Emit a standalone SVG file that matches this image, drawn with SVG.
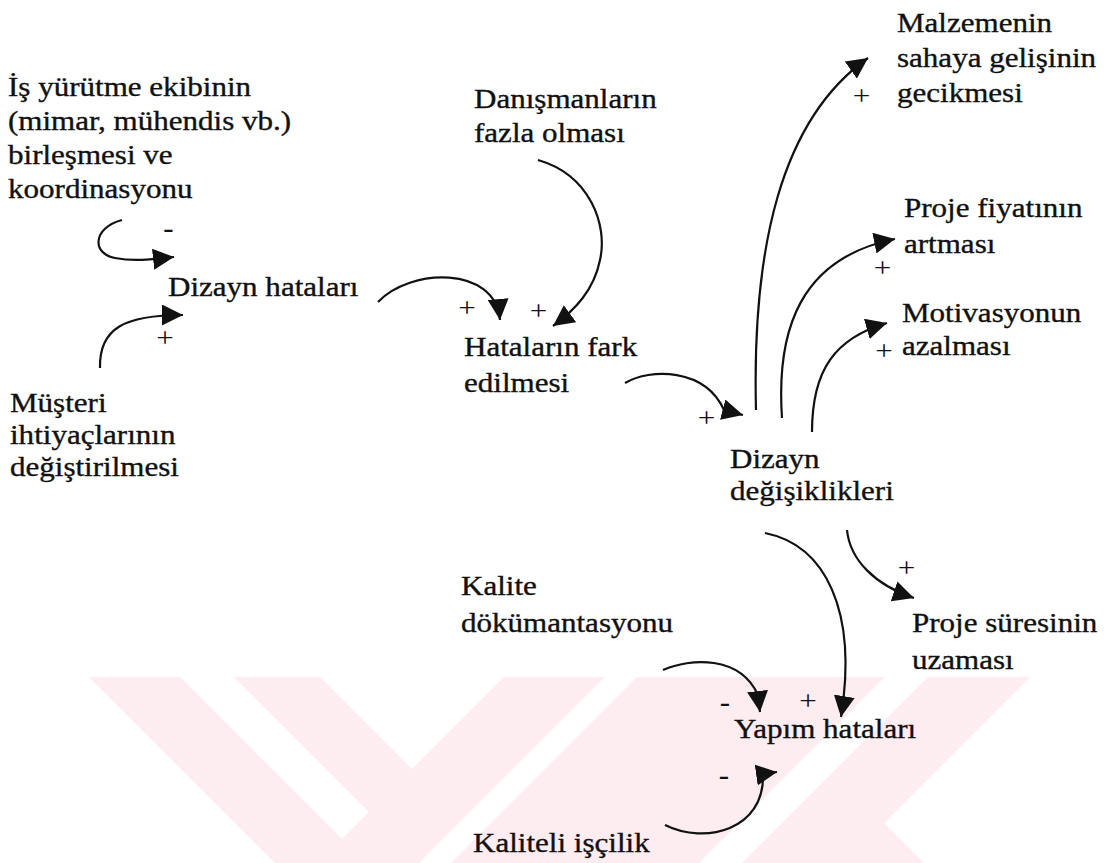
<svg xmlns="http://www.w3.org/2000/svg" width="1104" height="863" viewBox="0 0 1104 863">
  <style>
    .lbl { font-family: "Liberation Serif", "Times New Roman", serif; font-size: 27px; fill: #111; stroke: #111; stroke-width: 0.35; }
    .sign { font-family: "Liberation Serif", "Times New Roman", serif; font-size: 27px; fill: #111; text-anchor: middle; }
    .minus { font-weight: bold; }
    .link { fill: none; stroke: #111; stroke-width: 2.2; marker-end: url(#ah); }
    .mark { fill: #fdecf0; stroke: none; }
  </style>
  <defs>
    <marker id="ah" markerUnits="userSpaceOnUse" viewBox="0 0 20 20" markerWidth="21" markerHeight="21" refX="20" refY="10" orient="auto">
      <path d="M0,0 L20,10 L0,20 z" fill="#111"/>
    </marker>
  </defs>

  <rect width="1104" height="863" fill="#ffffff"/>

  <!-- faint background mark along the bottom -->
  <g id="background-mark">
    <polygon class="mark" points="89,677 180,677 342,839 369,812 234,677 320,677 412,769 504,677 605,677 419,863 275,863"/>
    <polygon class="mark" points="637,677 885,677 699,863 451,863"/>
    <polygon class="mark" points="928,677 1030,677 884,823 924,863 742,863"/>
  </g>

  <!-- causal links -->
  <g id="connectors">
    <path class="link" d="M122,220 C92,228 92,254 115,258 C135,262 155,259 174,257"/>
    <path class="link" d="M100,368 C99,328 125,315 183,315"/>
    <path class="link" d="M378,302 C410,268 495,265 500,320"/>
    <path class="link" d="M538,160 C590,175 608,225 600,260 C594,290 575,310 553,326"/>
    <path class="link" d="M625,383 C650,368 705,368 724,410 L743,415"/>
    <path class="link" d="M756,410 C752,250 780,120 868,58"/>
    <path class="link" d="M782,418 C776,330 800,258 895,239"/>
    <path class="link" d="M812,432 C812,370 835,338 887,323"/>
    <path class="link" d="M765,533 C825,545 858,610 841,717"/>
    <path class="link" d="M847,530 C850,560 875,585 914,598"/>
    <path class="link" d="M663,670 C690,658 740,655 758,695 L760,712"/>
    <path class="link" d="M665,825 C705,845 765,830 763,774 L777,772"/>
  </g>

  <!-- link polarities -->
  <g id="polarity">
    <text class="sign minus" transform="translate(168.5,236.5) scale(1.15,1)">-</text>
    <text class="sign" transform="translate(165,347) scale(1.15,1)">+</text>
    <text class="sign" transform="translate(467,317) scale(1.15,1)">+</text>
    <text class="sign" transform="translate(538.5,319.5) scale(1.15,1)">+</text>
    <text class="sign" transform="translate(706.5,426.5) scale(1.15,1)">+</text>
    <text class="sign" transform="translate(861.5,104.5) scale(1.15,1)">+</text>
    <text class="sign" transform="translate(882.5,276.5) scale(1.15,1)">+</text>
    <text class="sign" transform="translate(884,360) scale(1.15,1)">+</text>
    <text class="sign" transform="translate(906.5,576.5) scale(1.15,1)">+</text>
    <text class="sign minus" transform="translate(725,711) scale(1.15,1)">-</text>
    <text class="sign" transform="translate(808,709.5) scale(1.15,1)">+</text>
    <text class="sign minus" transform="translate(724,784) scale(1.15,1)">-</text>
  </g>

  <g id="n-koordinasyon">
    <text class="lbl" transform="translate(8,96) scale(1.15,1)">
      <tspan x="0" y="0">İş yürütme ekibinin</tspan>
      <tspan x="0" y="34">(mimar, mühendis vb.)</tspan>
      <tspan x="0" y="68">birleşmesi ve</tspan>
      <tspan x="0" y="102">koordinasyonu</tspan>
    </text>
  </g>

  <g id="n-dizayn-hatalari">
    <text class="lbl" transform="translate(168,296) scale(1.15,1)">Dizayn hataları</text>
  </g>

  <g id="n-musteri">
    <text class="lbl" transform="translate(10,412) scale(1.15,1)">
      <tspan x="0" y="0">Müşteri</tspan>
      <tspan x="0" y="32">ihtiyaçlarının</tspan>
      <tspan x="0" y="64">değiştirilmesi</tspan>
    </text>
  </g>

  <g id="n-danismanlar">
    <text class="lbl" transform="translate(474,108) scale(1.15,1)">
      <tspan x="0" y="0">Danışmanların</tspan>
      <tspan x="0" y="34">fazla olması</tspan>
    </text>
  </g>

  <g id="n-hatalarin-fark">
    <text class="lbl" transform="translate(464,356) scale(1.15,1)">
      <tspan x="0" y="0">Hataların fark</tspan>
      <tspan x="0" y="36">edilmesi</tspan>
    </text>
  </g>

  <g id="n-malzeme">
    <text class="lbl" transform="translate(897,32) scale(1.15,1)">
      <tspan x="0" y="0">Malzemenin</tspan>
      <tspan x="0" y="35">sahaya gelişinin</tspan>
      <tspan x="0" y="70">gecikmesi</tspan>
    </text>
  </g>

  <g id="n-proje-fiyati">
    <text class="lbl" transform="translate(904,217) scale(1.15,1)">
      <tspan x="0" y="0">Proje fiyatının</tspan>
      <tspan x="0" y="36">artması</tspan>
    </text>
  </g>

  <g id="n-motivasyon">
    <text class="lbl" transform="translate(902,322) scale(1.15,1)">
      <tspan x="0" y="0">Motivasyonun</tspan>
      <tspan x="0" y="33">azalması</tspan>
    </text>
  </g>

  <g id="n-dizayn-degisiklikleri">
    <text class="lbl" transform="translate(730,468) scale(1.15,1)">
      <tspan x="0" y="0">Dizayn</tspan>
      <tspan x="0" y="32">değişiklikleri</tspan>
    </text>
  </g>

  <g id="n-proje-suresi">
    <text class="lbl" transform="translate(912,632) scale(1.15,1)">
      <tspan x="0" y="0">Proje süresinin</tspan>
      <tspan x="0" y="37">uzaması</tspan>
    </text>
  </g>

  <g id="n-kalite-dokumantasyonu">
    <text class="lbl" transform="translate(461,595) scale(1.15,1)">
      <tspan x="0" y="0">Kalite</tspan>
      <tspan x="0" y="37">dökümantasyonu</tspan>
    </text>
  </g>

  <g id="n-yapim-hatalari">
    <text class="lbl" transform="translate(734,738) scale(1.15,1)">Yapım hataları</text>
  </g>

  <g id="n-kaliteli-iscilik">
    <text class="lbl" transform="translate(473,852) scale(1.15,1)">Kaliteli işçilik</text>
  </g>
</svg>
